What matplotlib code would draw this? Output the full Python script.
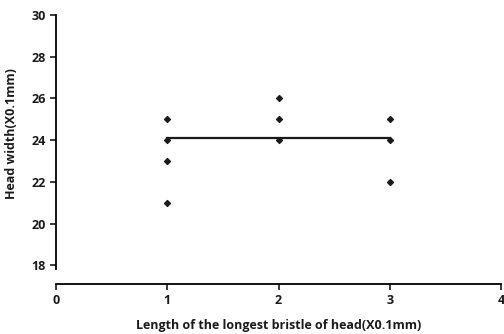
import matplotlib.pyplot as plt

plt.rcParams['font.family'] = ['Open Sans', 'DejaVu Sans']

x_pts = [1, 1, 1, 1, 2, 2, 2, 3, 3, 3]
y_pts = [25, 24, 23, 21, 26, 25, 24, 25, 24, 22]
line_x = [1, 3]
line_y = [24.1, 24.1]
x_ticks = [0, 1, 2, 3, 4]
y_ticks = [18, 20, 22, 24, 26, 28, 30]

fig = plt.figure(figsize=(5.04, 3.34), dpi=100)
ax = fig.add_axes([56 / 504, 1 - 284 / 334, 445 / 504, 270 / 334])

ax.plot(line_x, line_y, color='#1a1a1a', lw=1.6, zorder=2)
ax.scatter(x_pts, y_pts, marker='D', s=9, color='#1a1a1a', zorder=3)

ax.set_xlim(0, 4)
ax.set_ylim(17.1, 30.05)
ax.set_xticks(x_ticks)
ax.set_yticks(y_ticks)
for s in ['top', 'right']:
    ax.spines[s].set_visible(False)
ax.spines['left'].set_bounds(17.8, 30)
ax.spines['left'].set_linewidth(1.3)
ax.spines['bottom'].set_linewidth(1.3)
ax.tick_params(direction='out', length=4, width=1.2, labelsize=9, colors='#1a1a1a')
for lab in ax.get_xticklabels() + ax.get_yticklabels():
    lab.set_fontweight('bold')

ax.set_xlabel('Length of the longest bristle of head(X0.1mm)', fontsize=9,
              fontweight='bold', color='#1a1a1a', labelpad=8)
ax.set_ylabel('Head width(X0.1mm)', fontsize=9, fontweight='bold',
              color='#1a1a1a')
ax.yaxis.set_label_coords(-0.085, 0.556)

fig.savefig('out.png', dpi=100)
